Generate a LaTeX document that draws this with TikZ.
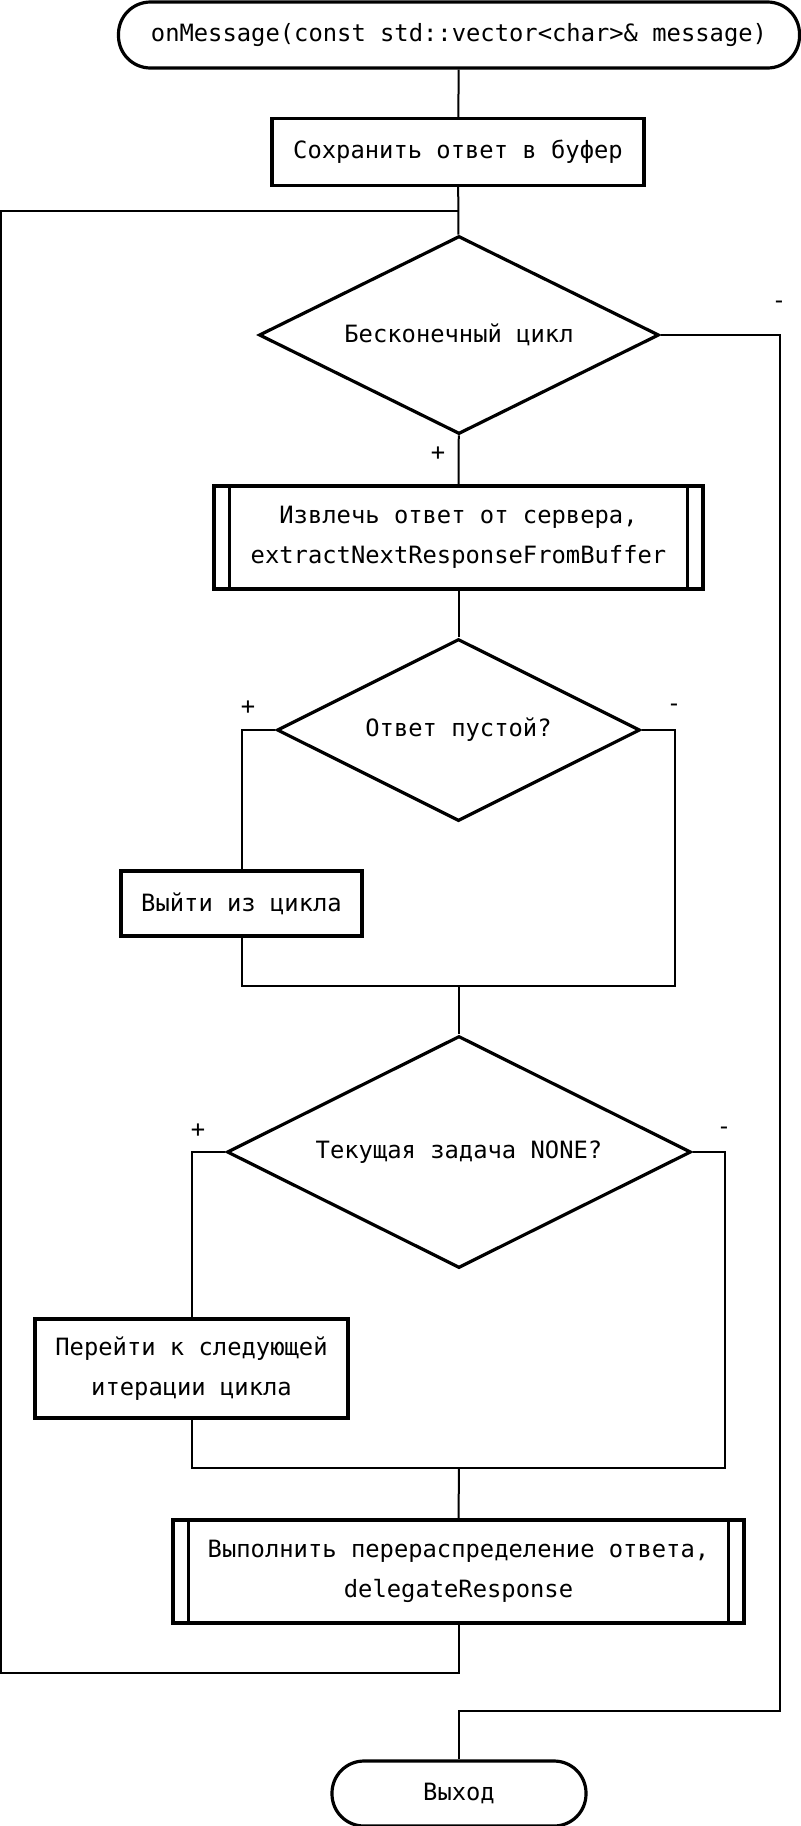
\documentclass[tikz,border=0pt]{standalone}
\usepackage{fontspec}
\setmonofont{DejaVu Sans Mono}
\usetikzlibrary{shapes.geometric}

\begin{document}
\begin{tikzpicture}[x=0.5pt, y=-0.5pt,
    every node/.style={font=\ttfamily\fontsize{11.9}{20}\selectfont, align=center},
    shp/.style={draw, line width=1.6pt, inner sep=0pt},
    terminal/.style={shp, rectangle, rounded corners=16pt},
    block/.style={shp, rectangle},
    cond/.style={shp, diamond, aspect=2},
    line/.style={line width=1pt}]

    \useasboundingbox (0,0) rectangle (800,1826);

    \node[terminal, minimum width=340.5pt, minimum height=33pt] (start) at (459,35)
      {onMessage(const std::vector<char>\& message)};

    \node[block, minimum width=186pt, minimum height=33.5pt] (save) at (458,152)
      {Сохранить ответ в буфер};

    \node[cond, minimum width=200pt, minimum height=99pt] (loop) at (459,335)
      {Бесконечный цикл};

    \node[block, minimum width=244.5pt, minimum height=51.5pt] (extract) at (458.5,537.5)
      {Извлечь ответ от сервера,\\extractNextResponseFromBuffer};
    \draw[line width=1.6pt] ([xshift=8.5pt]extract.north west) -- ([xshift=8.5pt]extract.south west);
    \draw[line width=1.6pt] ([xshift=-8.5pt]extract.north east) -- ([xshift=-8.5pt]extract.south east);

    \node[cond, minimum width=181.5pt, minimum height=91pt] (empty) at (458.5,730)
      {Ответ пустой?};

    \node[block, minimum width=120.5pt, minimum height=32.5pt] (brk) at (241.5,903.5)
      {Выйти из цикла};

    \node[cond, minimum width=232pt, minimum height=116pt] (task) at (459,1152)
      {Текущая задача NONE?};

    \node[block, minimum width=156.5pt, minimum height=49.5pt] (cont) at (191.5,1368.5)
      {Перейти к следующей\\итерации цикла};

    \node[block, minimum width=285.5pt, minimum height=51.5pt] (delegate) at (458.5,1571.5)
      {Выполнить перераспределение ответа,\\delegateResponse};
    \draw[line width=1.6pt] ([xshift=8.5pt]delegate.north west) -- ([xshift=8.5pt]delegate.south west);
    \draw[line width=1.6pt] ([xshift=-8.5pt]delegate.north east) -- ([xshift=-8.5pt]delegate.south east);

    \node[terminal, minimum width=127pt, minimum height=32.5pt] (exit) at (459,1793.5)
      {Выход};

    \node (loopno) at (779,305) {-};
    \node (loopyes) at (438,454) {+};
    \node (emptyyes) at (248,708) {+};
    \node (emptyno) at (674,708) {-};
    \node (taskyes) at (198,1131) {+};
    \node (taskno) at (724,1131) {-};

    \coordinate (loopin) at (459,211);
    \coordinate (loopout) at (1,1673);
    \coordinate (exitcorner) at (780,1711);
    \coordinate (merge1) at (459,986);
    \coordinate (merge1r) at (675,986);
    \coordinate (merge2) at (459,1468);
    \coordinate (merge2r) at (725,1468);

    \draw[line] (start) -- (save);
    \draw[line] (save) -- (loop);
    \draw[line] (loop) -- (extract);
    \draw[line] (extract) -- (empty);
    \draw[line] (empty.west) -| (brk.north);
    \draw[line] (brk.south) |- (merge1);
    \draw[line] (empty.east) -| (merge1r) -- (merge1);
    \draw[line] (merge1) -- (task.north);
    \draw[line] (task.west) -| (cont.north);
    \draw[line] (cont.south) |- (merge2);
    \draw[line] (task.east) -| (merge2r) -- (merge2);
    \draw[line] (merge2) -- (delegate.north);
    \draw[line] (delegate.south) |- (loopout) |- (loopin);
    \draw[line] (loop.east) -| (exitcorner) -| (exit.north);

  \end{tikzpicture}
\end{document}
